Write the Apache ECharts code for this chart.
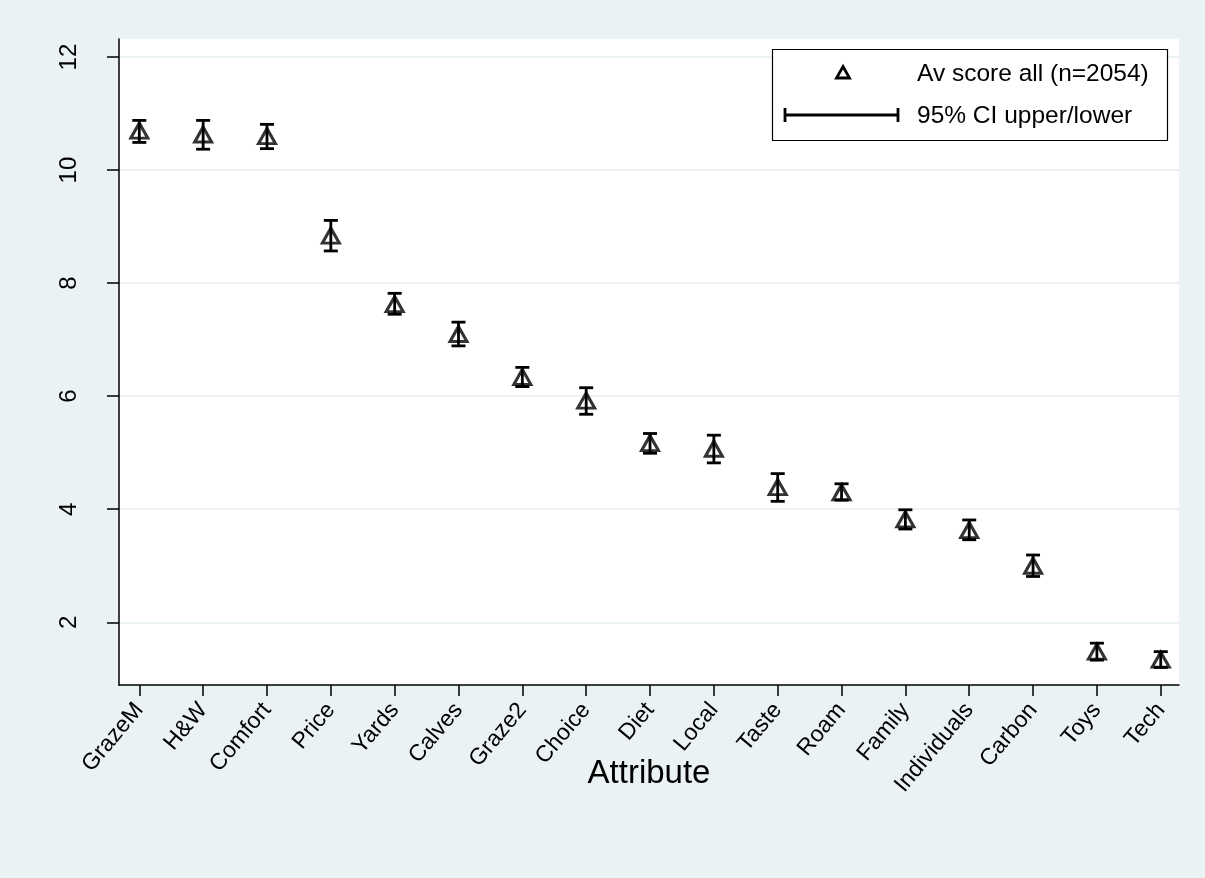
<!DOCTYPE html>
<html>
<head>
<meta charset="utf-8">
<script src="https://cdn.jsdelivr.net/npm/echarts@6/dist/echarts.min.js"></script>
<style>
html,body{margin:0;padding:0;background:#EAF2F3;}
#chart{width:1205px;height:878px;}
</style>
</head>
<body>
<div id="chart"></div>
<script>
const categories = ['GrazeM','H&W','Comfort','Price','Yards','Calves','Graze2','Choice','Diet','Local','Taste','Roam','Family','Individuals','Carbon','Toys','Tech'];
const meanScores = [10.70,10.63,10.60,8.84,7.63,7.10,6.34,5.92,5.17,5.07,4.39,4.30,3.82,3.63,3.00,1.48,1.34];
const ciLower = [10.49,10.37,10.38,8.57,7.45,6.89,6.17,5.68,4.99,4.82,4.14,4.16,3.65,3.46,2.81,1.33,1.20];
const ciUpper = [10.88,10.88,10.81,9.11,7.82,7.31,6.51,6.15,5.34,5.31,4.63,4.45,3.99,3.81,3.19,1.63,1.48];
const yTicks = [2,4,6,8,10,12];
const xTicks = categories.map((c,i)=>i);

const FONT = 'Liberation Sans, Arial, sans-serif';
const chart = echarts.init(document.getElementById('chart'));

const errData = categories.map((c,i)=>[i, ciLower[i], ciUpper[i]]);
const ptData = categories.map((c,i)=>[i, meanScores[i]]);

function renderErr(params, api){
  const x = api.value(0);
  const lo = api.coord([x, api.value(1)]);
  const hi = api.coord([x, api.value(2)]);
  const hw = 7;
  const st = {stroke:'#000', lineWidth:2.8};
  return {type:'group', children:[
    {type:'line', shape:{x1:lo[0],y1:lo[1],x2:hi[0],y2:hi[1]}, style:st},
    {type:'line', shape:{x1:lo[0]-hw,y1:lo[1],x2:lo[0]+hw,y2:lo[1]}, style:st},
    {type:'line', shape:{x1:hi[0]-hw,y1:hi[1],x2:hi[0]+hw,y2:hi[1]}, style:st}
  ]};
}

const option = {
  backgroundColor:'#EAF2F3',
  animation:false,
  grid:{left:119, top:39, right:26, bottom:193, show:true, backgroundColor:'#ffffff', borderWidth:0},
  xAxis:{
    type:'value', min:-0.318, max:16.286,
    name:'Attribute', nameLocation:'middle', nameGap:72, nameMoveOverlap:false,
    nameTextStyle:{fontFamily:FONT, fontSize:33, color:'#000'},
    axisLine:{show:true, onZero:false, lineStyle:{color:'#000', width:1.5}},
    axisTick:{show:true, customValues:xTicks, length:11, lineStyle:{color:'#000', width:1.5}},
    axisLabel:{customValues:xTicks, rotate:50, margin:21, fontFamily:FONT, fontSize:23, color:'#000',
      formatter:(v)=>categories[Math.round(v)]},
    splitLine:{show:false}
  },
  yAxis:{
    type:'value', min:0.89, max:12.32,
    axisLine:{show:true, onZero:false, lineStyle:{color:'#000', width:1.5}},
    axisTick:{show:true, customValues:yTicks, length:12, lineStyle:{color:'#000', width:1.5}},
    axisLabel:{customValues:yTicks, rotate:90, margin:38, fontFamily:FONT, fontSize:24, color:'#000'},
    splitLine:{show:true, lineStyle:{color:'#EAF2F3', width:2}}
  },
  series:[
    {type:'custom', name:'95% CI upper/lower', renderItem:renderErr, data:errData, encode:{x:0, y:[1,2]}, z:2},
    {type:'scatter', name:'Av score all (n=2054)', data:ptData, symbol:'triangle', symbolSize:[17,15],
      itemStyle:{color:'rgba(0,0,0,0)', borderColor:'#000', borderWidth:3}, z:3}
  ],
  graphic:[
    {type:'rect', shape:{x:772.5, y:49.5, width:395, height:91}, style:{fill:'#fff', stroke:'#000', lineWidth:1.2}, z:10},
    {type:'polygon', shape:{points:[[843,66.5],[849.5,78],[836.5,78]]}, style:{fill:'none', stroke:'#000', lineWidth:2.8}, z:11},
    {type:'text', x:917, y:74, style:{text:'Av score all (n=2054)', fontFamily:FONT, fontSize:24.5, fill:'#000', textVerticalAlign:'middle'}, z:11},
    {type:'line', shape:{x1:785, y1:115, x2:898, y2:115}, style:{stroke:'#000', lineWidth:2.8}, z:11},
    {type:'line', shape:{x1:785, y1:108, x2:785, y2:122}, style:{stroke:'#000', lineWidth:2.8}, z:11},
    {type:'line', shape:{x1:898, y1:108, x2:898, y2:122}, style:{stroke:'#000', lineWidth:2.8}, z:11},
    {type:'text', x:917, y:116, style:{text:'95% CI upper/lower', fontFamily:FONT, fontSize:24.5, fill:'#000', textVerticalAlign:'middle'}, z:11}
  ]
};
chart.setOption(option);
</script>
</body>
</html>
